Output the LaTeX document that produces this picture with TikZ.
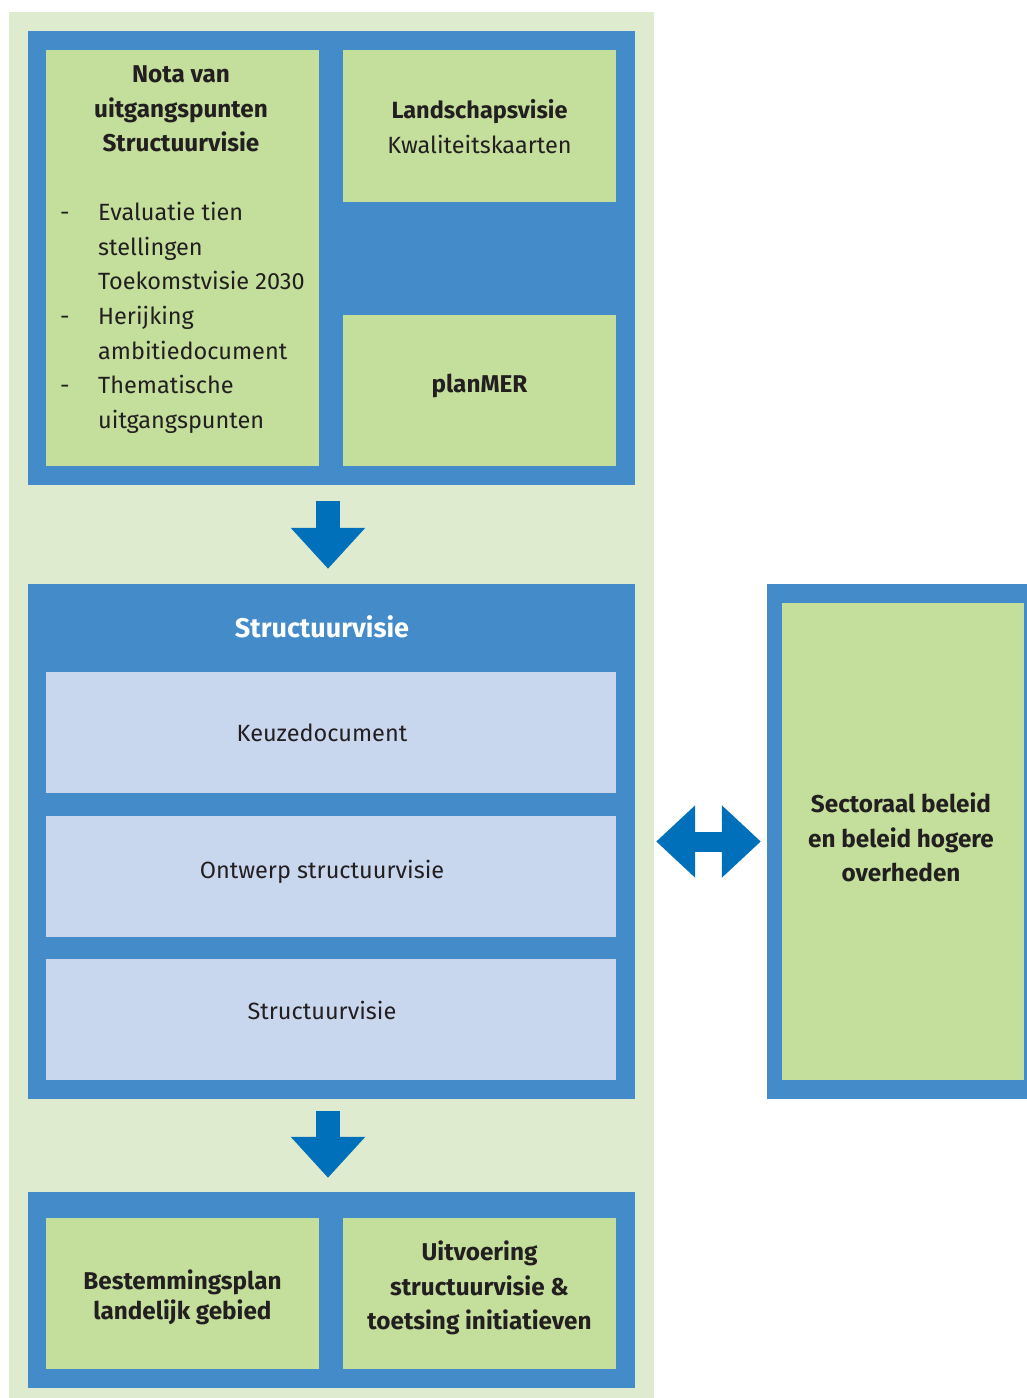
\documentclass[tikz,border=0pt]{standalone}
\usepackage{fontspec}
\setmainfont{Fira Sans}
\usetikzlibrary{arrows.meta}
\definecolor{bggreen}{HTML}{DFEBCF}
\definecolor{panelblue}{HTML}{438CC9}
\definecolor{boxgreen}{HTML}{C3DF9B}
\definecolor{boxblue}{HTML}{C8D6EE}
\definecolor{arrowblue}{HTML}{0070BA}
\definecolor{textdark}{HTML}{231F20}
\begin{document}
\begin{tikzpicture}[x=1pt,y=-1pt,
	panel/.style={rectangle,fill=panelblue,inner sep=0pt},
	green_box/.style={rectangle,fill=boxgreen,inner sep=0pt},
	blue_box/.style={rectangle,fill=boxblue,inner sep=0pt,minimum width=570pt,minimum height=121pt},
	box_text/.style={align=center,text=textdark,inner sep=0pt,font=\fontsize{23.5}{34.7}\selectfont},
	bold_text/.style={box_text,font=\fontsize{24.3}{34.7}\selectfont\bfseries},
	block_arrow/.style={line width=24pt,draw=arrowblue,-{Triangle[width=72pt,length=41pt]}},
	both_arrow/.style={line width=20pt,draw=arrowblue,{Triangle[width=70pt,length=39pt]}-{Triangle[width=70pt,length=39pt]}}]
	\useasboundingbox (0,0) rectangle (1027,1398);
	\fill[bggreen] (9,12) rectangle (654,1398);

	\node[panel,minimum width=607pt,minimum height=454pt] (top) at (331.5,258) {};
	\node[green_box,minimum width=273pt,minimum height=416pt] (nota) at (182.5,258) {};
	\node[bold_text] (nota_title) at (181,109) {Nota van\\uitgangspunten\\Structuurvisie};
	\node[box_text,anchor=north west] (nota_list) at (60,196) {%
		\begin{tabular}{@{}p{38pt}@{}p{220pt}@{}}
		- & Evaluatie tien\newline stellingen\newline Toekomstvisie 2030\\
		- & Herijking\newline ambitiedocument\\
		- & Thematische\newline uitgangspunten
		\end{tabular}};
	\node[green_box,minimum width=273pt,minimum height=152pt] (landschap) at (479.5,126) {};
	\node[box_text] (landschap_text) at (479.5,126.5) {\bfseries Landschapsvisie\\Kwaliteitskaarten};
	\node[green_box,minimum width=273pt,minimum height=151pt] (planmer) at (479.5,390.5) {};
	\node[bold_text] (planmer_text) at (479.5,386) {planMER};

	\node[panel,minimum width=607pt,minimum height=515pt] (sv) at (331.5,841.5) {};
	\node[text=white,font=\fontsize{27}{30}\selectfont\bfseries] (sv_title) at (322,627) {Structuurvisie};
	\node[blue_box] (keuze) at (331,732.5) {};
	\node[box_text] (keuze_text) at (322,732.5) {Keuzedocument};
	\node[blue_box] (ontwerp) at (331,876.5) {};
	\node[box_text] (ontwerp_text) at (322,872) {Ontwerp structuurvisie};
	\node[blue_box] (definitief) at (331,1019.5) {};
	\node[box_text] (definitief_text) at (322,1010) {Structuurvisie};

	\node[panel,minimum width=607pt,minimum height=196pt] (bottom) at (331.5,1290) {};
	\node[green_box,minimum width=273pt,minimum height=151pt] (bestemming) at (182.5,1293.5) {};
	\node[bold_text,font=\fontsize{24.3}{30}\selectfont\bfseries] (bestemming_text) at (182.5,1297) {Bestemmingsplan\\landelijk gebied};
	\node[green_box,minimum width=273pt,minimum height=151pt] (uitvoering) at (479.5,1293.5) {};
	\node[bold_text] (uitvoering_text) at (479.5,1288) {Uitvoering\\structuurvisie \&\\toetsing initiatieven};

	\node[panel,minimum width=260pt,minimum height=515pt] (sector) at (897,841.5) {};
	\node[green_box,minimum width=242pt,minimum height=477pt] (sector_box) at (903,841.5) {};
	\node[bold_text] (sector_text) at (901,837.5) {Sectoraal beleid\\en beleid hogere\\overheden};

	\draw[block_arrow] ([xshift=-3.5pt,yshift=-16pt]top.south) -- ([xshift=-3.5pt,yshift=15pt]sv.north);
	\draw[block_arrow] ([xshift=-3.5pt,yshift=-12pt]sv.south) -- ([xshift=-3.5pt,yshift=14pt]bottom.north);
	\draw[both_arrow] ([xshift=21pt]sv.east) -- ([xshift=-6pt]sector.west);
\end{tikzpicture}
\end{document}
